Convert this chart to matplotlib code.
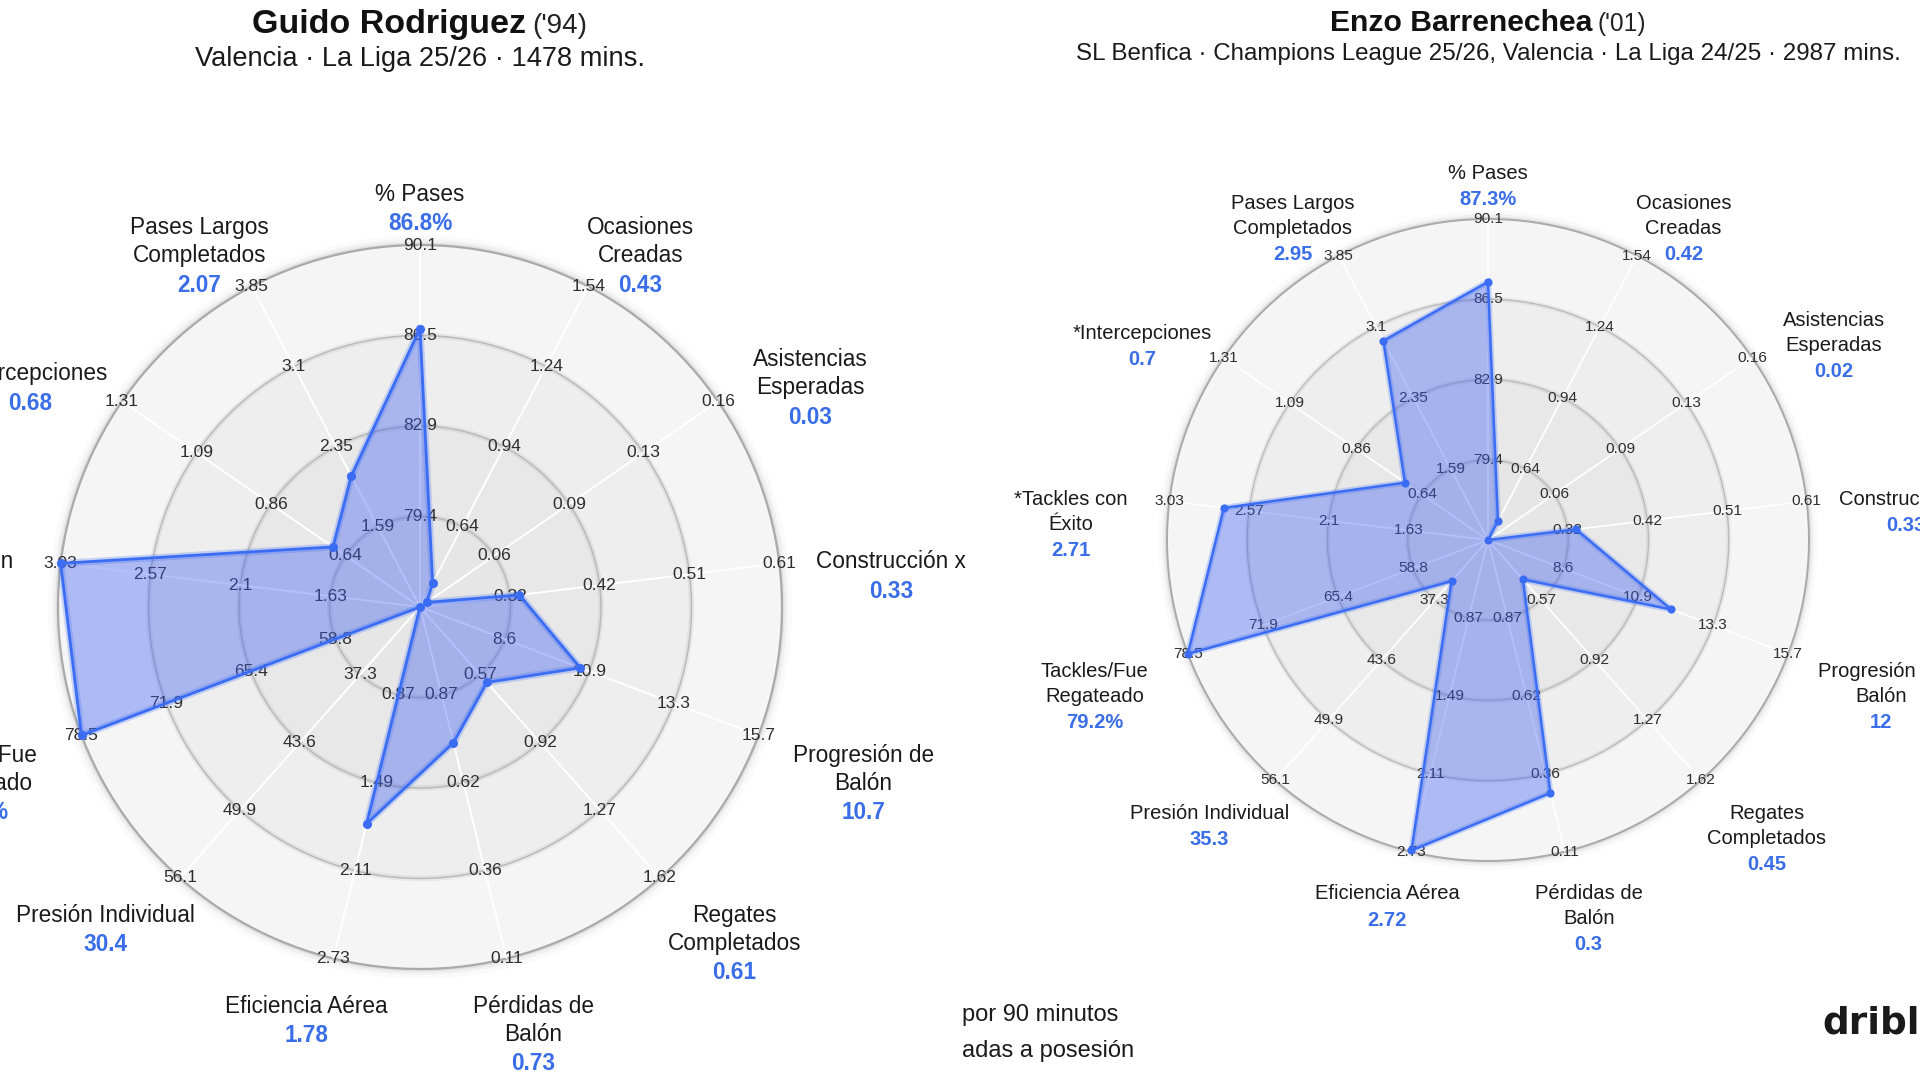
import numpy as np
import matplotlib
matplotlib.use("Agg")
import matplotlib.pyplot as plt

plt.rcParams['font.family'] = ['Liberation Sans', 'DejaVu Sans']

# ---------------- data ----------------
categories = ["% Pases", "Ocasiones\nCreadas", "Asistencias\nEsperadas", "Construcción x",
              "Progresión de\nBalón", "Regates\nCompletados", "Pérdidas de\nBalón",
              "Eficiencia Aérea", "Presión Individual", "Tackles/Fue\nRegateado",
              "*Tackles con\nÉxito", "*Intercepciones", "Pases Largos\nCompletados"]

# value at centre of the radar and at the outer ring for every axis
axis_min = [75.8, 0.34, 0.027, 0.223, 6.2, 0.22, 1.12, 0.25, 31.0, 52.2, 1.16, 0.42, 0.84]
axis_max = [90.1, 1.54, 0.16, 0.61, 15.7, 1.62, 0.11, 2.73, 56.1, 78.5, 3.03, 1.31, 3.85]

tick_labels = [
    ["79.4", "82.9", "86.5", "90.1"],
    ["0.64", "0.94", "1.24", "1.54"],
    ["0.06", "0.09", "0.13", "0.16"],
    ["0.32", "0.42", "0.51", "0.61"],
    ["8.6", "10.9", "13.3", "15.7"],
    ["0.57", "0.92", "1.27", "1.62"],
    ["0.87", "0.62", "0.36", "0.11"],
    ["0.87", "1.49", "2.11", "2.73"],
    ["37.3", "43.6", "49.9", "56.1"],
    ["58.8", "65.4", "71.9", "78.5"],
    ["1.63", "2.1", "2.57", "3.03"],
    ["0.64", "0.86", "1.09", "1.31"],
    ["1.59", "2.35", "3.1", "3.85"],
]
percent_axes = [True, False, False, False, False, False, False, False, False, True, False, False, False]

guido_values = [86.8, 0.43, 0.03, 0.33, 10.7, 0.61, 0.73, 1.78, 30.4, 84.2, 3.3, 0.68, 2.07]
enzo_values = [87.3, 0.42, 0.02, 0.33, 12, 0.45, 0.3, 2.72, 35.3, 79.2, 2.71, 0.7, 2.95]

players = ["Guido Rodriguez", "Enzo Barrenechea"]
born = ["('94)", "('01)"]
subtitles = ["Valencia · La Liga 25/26 · 1478 mins.",
             "SL Benfica · Champions League 25/26, Valencia · La Liga 24/25 · 2987 mins."]
footer = ["por 90 minutos", "adas a posesión"]
logo = "driblab"

# ---------------- style ----------------
W, H = 1920, 1080
BLUE_LINE = "#3a6cf4"
BLUE_FILL = "#3d5ef0"
BLUE_TXT = "#3a6ee8"
TXT = "#1a1a1a"
TICK = "#2e2e2e"
band_cols = ["#e6e6e6", "#e8e8e8", "#eeeeee", "#f5f5f5"]

fig = plt.figure(figsize=(W / 100, H / 100), dpi=100)
fig.patch.set_facecolor("white")
renderer = fig.canvas.get_renderer()


def ftext(x, y_down, s, **kw):
    return fig.text(x / W, (H - y_down) / H, s, **kw)


def draw_panel(cx, cy_down, R, s, values, name, year, subtitle):
    cy = H - cy_down
    ax = fig.add_axes([(cx - R) / W, (cy - R) / H, 2 * R / W, 2 * R / H], projection="polar")
    ax.set_theta_zero_location("N")
    ax.set_theta_direction(-1)
    ax.set_ylim(0, 1)
    ax.axis("off")
    n = len(categories)
    thetas = np.arange(n) * 2 * np.pi / n
    full = np.linspace(0, 2 * np.pi, 400)

    # outer soft shadow
    for lw, a in [(14, 0.02), (8, 0.035), (4, 0.06)]:
        ax.plot(full, np.ones_like(full), color="black", alpha=a, lw=lw * s, zorder=0.5, clip_on=False)
    # bands
    edges = [0, 0.25, 0.5, 0.75, 1.0]
    for i in range(4):
        ax.fill_between(full, edges[i], edges[i + 1], color=band_cols[i], lw=0, zorder=1)
    # ring lines
    for r in [0.25, 0.5, 0.75]:
        ax.plot(full, np.full_like(full, r), color="#000000", alpha=0.05, lw=4 * s, zorder=1.5)
        ax.plot(full, np.full_like(full, r), color="#bababa", lw=1.1 * s, zorder=2)
    ax.plot(full, np.ones_like(full), color="#aaaaaa", lw=1.6 * s, zorder=2, clip_on=False)
    # spokes
    for th in thetas:
        ax.plot([th, th], [0, 1], color="white", lw=1.4 * s, zorder=3)
    # tick labels
    for th, labs in zip(thetas, tick_labels):
        for k, lab in enumerate(labs):
            ax.text(th, (k + 1) / 4, lab, ha="center", va="center", fontsize=12.5 * s,
                    color=TICK, zorder=4, clip_on=False)
    # polygon
    rv = [min(max((v - lo) / (hi - lo), 0.0), 1.0) for v, lo, hi in zip(values, axis_min, axis_max)]
    th_c = np.append(thetas, thetas[0])
    r_c = np.append(rv, rv[0])
    ax.fill(th_c, r_c, color=BLUE_FILL, alpha=0.39, lw=0, zorder=5)
    ax.plot(th_c, r_c, color=BLUE_LINE, alpha=0.25, lw=5 * s, zorder=5.5, clip_on=False)
    ax.plot(th_c, r_c, color=BLUE_LINE, lw=2.0 * s, zorder=6, clip_on=False)
    ax.plot(thetas, rv, "o", color=BLUE_LINE, ms=5.5 * s, zorder=7, clip_on=False)

    # category + value labels
    L, Lv = 28 * s, 29.5 * s
    for th, cat, v, pct in zip(thetas, categories, values, percent_axes):
        c = np.cos(th)
        bx = cx + 1.31 * R * np.sin(th)
        lines = cat.split("\n")
        span = (len(lines) - 1) * L + Lv
        if c > 0.3:
            first = cy_down - (1.15 * c - 0.05) * R - span / 2
        else:
            first = cy_down + (-1.125 * c + 0.01) * R
        for i, ln in enumerate(lines):
            ftext(bx, first + i * L, ln, ha="center", va="center", fontsize=16.3 * s, color=TXT)
        vs = f"{v:g}%" if pct else f"{v:g}"
        ftext(bx, first + span, vs, ha="center", va="center", fontsize=16.3 * s,
              color=BLUE_TXT, fontweight="bold")

    # title
    t1 = ftext(0, cy_down - 574 * s, name, ha="left", va="baseline", fontsize=24.5 * s,
               fontweight="bold", color="#111111")
    t2 = ftext(0, cy_down - 574 * s, year, ha="left", va="baseline", fontsize=20 * s, color="#222222")
    w1 = t1.get_window_extent(renderer).width
    w2 = t2.get_window_extent(renderer).width
    gap = 6 * s
    x0 = cx - (w1 + gap + w2) / 2
    t1.set_x(x0 / W)
    t2.set_x((x0 + w1 + gap) / W)
    ftext(cx, cy_down - 541 * s, subtitle, ha="center", va="baseline", fontsize=19.6 * s, color="#1a1a1a")


draw_panel(420, 607, 362, 1.0, guido_values, players[0], born[0], subtitles[0])
draw_panel(1488, 540, 321, 321 / 362, enzo_values, players[1], born[1], subtitles[1])

ftext(962, 1015, footer[0], ha="left", va="center", fontsize=17, color="#1a1a1a")
ftext(962, 1051, footer[1], ha="left", va="center", fontsize=17, color="#1a1a1a")
ftext(1822, 1033, logo, ha="left", va="baseline", fontsize=27, fontweight="bold",
      color="#1a1a1a", family="DejaVu Sans")

fig.savefig("out.png", dpi=100, facecolor="white")
